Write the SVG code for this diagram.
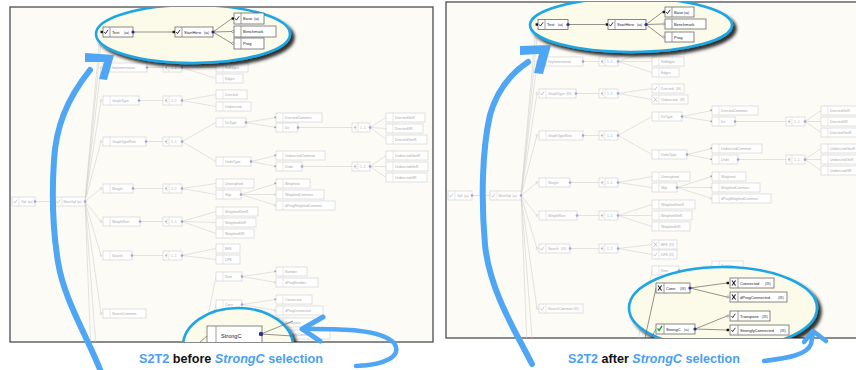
<svg xmlns="http://www.w3.org/2000/svg" width="856" height="370" viewBox="0 0 856 370">
<defs>
<style>
.pl{fill:#fcfbf6;stroke:#4d4d4d;stroke-width:1.3}
.n rect{fill:#fff;stroke:#d3d3d3;stroke-width:.7}
.n path{fill:none;stroke:#d6d6d6;stroke-width:.6}
.n path.i{stroke:#a8a8a8;stroke-width:.6}
.n text{font-family:'Liberation Sans',Arial,sans-serif;font-size:3.4px;fill:#a9a9a9}
.n text.t{font-size:2.6px}
.d{fill:#a2a2dc}
.c{fill:none;stroke:#d2d2d2;stroke-width:.6}
.mo{fill:#fff;stroke:#b8b8b8;stroke-width:.5}
.ms{fill:#8a8a8a}
.e{fill:#fcfbe9;stroke:#1fa6e3;stroke-width:2.6}
.k rect{fill:#fff;stroke:#6a6a6a;stroke-width:.8}
.k path{fill:none;stroke:#777;stroke-width:.7}
.k path.i{stroke:#222;stroke-width:.9}
.k path.x{stroke:#222;stroke-width:1.1}
.k path.gi{stroke:#1faa1f;stroke-width:1.4}
.k text{font-family:'Liberation Sans',Arial,sans-serif;font-size:4px;fill:#222}
.k text.t{font-size:2.8px}
.k .d{fill:#2d2d8c}
.k rect.ks{fill:#111;stroke:none}
.k circle.ko{fill:#fff;stroke:#555;stroke-width:.5}
.kc{fill:none;stroke:#666;stroke-width:.7}
.ar{fill:none;stroke:#4ea6f5;stroke-linecap:round;stroke-linejoin:round}
.ah{fill:#4ea6f5}
.cap{font-family:'Liberation Sans',Arial,sans-serif;font-weight:bold;font-size:12.6px;fill:#4a9ff0}
.cap .b{fill:#111}
.cap .it{font-style:italic}
</style>
<clipPath id="cl"><rect x="10" y="7" width="423" height="335"/></clipPath>
<clipPath id="cr"><rect x="446" y="2" width="420" height="336"/></clipPath>
<filter id="sh" x="-20%" y="-20%" width="150%" height="160%"><feDropShadow dx="3.5" dy="3.5" stdDeviation="1.8" flood-color="#000" flood-opacity=".8"/></filter>
</defs>
<rect width="856" height="370" fill="#fff"/>
<rect class="pl" x="10" y="7" width="423" height="335"/>
<rect class="pl" x="446" y="2" width="420" height="336"/>

<!-- LEFT PANEL -->
<g id="left" clip-path="url(#cl)">
<g id="L_edges">
<path class="c" d="M35 201.5H55M85 201.5L101 22M85 201.5L101 42M85 201.5L101 67.5M85 201.5L101 100.5M85 201.5L101 141.5M85 201.5L101 188.5M85 201.5L101 221.5M85 201.5L101 255.5M85 201.5L101 313.5M85 201.5L97 360M85 201.5L92 380"/>
<path class="c" d="M147 67.5H163M182 67.5L216 55.5M182 67.5H216M182 67.5L216 78.5M139 100.5H163M182 100.5L216 94.5M182 100.5L216 106.5M146 141.5H163M182 141.5L216 122.5M182 141.5L216 161.5"/>
<path class="c" d="M246 122.5L276 117.5M246 122.5L276 127.5M298 127.5H352M370 127.5L386 117.5M370 127.5L386 128.5M370 127.5L386 139.5M251 161.5L276 155.5M251 161.5L276 166.5M302 166.5H352M370 166.5L386 155.5M370 166.5H386M370 166.5L386 177.5"/>
<path class="c" d="M133 188.5H163M182 188.5L216 183.5M182 188.5L216 194.5M241 194.5L276 183.5M241 194.5H276M241 194.5L276 205.5M140 221.5H163M182 221.5L216 211.5M182 221.5L216 222.5M182 221.5L216 233.5M132 255.5H163M182 255.5L216 248.5M182 255.5L216 259.5"/>
<path class="c" d="M198 365L216 276.5M201 365L216 304.5M242 276.5L276 271.5M242 276.5L276 282.5M242 304.5L276 299.5M242 304.5L276 310.5"/>
<circle class="mo" cx="101" cy="67.5" r=".9"/><circle class="mo" cx="101" cy="100.5" r=".9"/><circle class="mo" cx="101" cy="141.5" r=".9"/><circle class="mo" cx="101" cy="188.5" r=".9"/><circle class="mo" cx="101" cy="221.5" r=".9"/><circle class="mo" cx="101" cy="255.5" r=".9"/><circle class="mo" cx="101" cy="313.5" r=".9"/>
<rect class="ms" x="274.5" y="116.5" width="1.6" height="1.6"/><rect class="ms" x="274.5" y="126.5" width="1.6" height="1.6"/><rect class="ms" x="274.5" y="154.5" width="1.6" height="1.6"/><rect class="ms" x="274.5" y="165.5" width="1.6" height="1.6"/><rect class="ms" x="274.5" y="182.5" width="1.6" height="1.6"/><circle class="mo" cx="275" cy="194.5" r=".9"/><circle class="mo" cx="275" cy="205.5" r=".9"/><rect class="ms" x="274.5" y="270.5" width="1.6" height="1.6"/><circle class="mo" cx="275" cy="282.5" r=".9"/><rect class="ms" x="274.5" y="298.5" width="1.6" height="1.6"/><circle class="mo" cx="275" cy="310.5" r=".9"/>
</g>
<g id="L_Gpl" class="n"><rect x="12" y="197" width="23" height="9"/><path class="i" d="M13.5 201.5l1.2 1.6 2.4-3.4"/><path d="M19 197v9"/><text x="21" y="203">Gpl</text><text class="t" x="28" y="203">(aa)</text><circle class="d" cx="35" cy="201.5" r="1.3"/></g>
<g id="L_MainGpl" class="n"><rect x="55" y="197" width="30" height="9"/><path class="i" d="M56.5 201.5l1.2 1.6 2.4-3.4"/><path d="M62 197v9"/><text x="63.5" y="203">MainGpl</text><text class="t" x="77" y="203">(aa)</text><circle class="d" cx="85" cy="201.5" r="1.3"/></g>
<g id="L_Implementation" class="n"><rect x="103" y="63" width="44" height="9"/><path d="M110 63v9"/><text x="112" y="69">Implementation</text><circle class="d" cx="147" cy="67.5" r="1.3"/></g>
<g id="L_g1" class="n"><rect x="163" y="63" width="19" height="9"/><path d="M169 63v9"/><path class="i" d="M167.5 65.5l-2.5 2 2.5 2M165 67.5h2.5"/><text x="171" y="69">1..1</text><circle class="d" cx="182" cy="67.5" r="1.3"/></g>
<g id="L_hidden" class="n"><rect x="216" y="51" width="33" height="9"/><path d="M223 51v9"/></g>
<g id="L_NoEdges" class="n"><rect x="216" y="63" width="32" height="9"/><path d="M223 63v9"/><text x="225" y="69">NoEdges</text></g>
<g id="L_Edges" class="n"><rect x="216" y="74" width="27" height="9"/><path d="M223 74v9"/><text x="225" y="80">Edges</text></g>
<g id="L_GraphType" class="n"><rect x="103" y="96" width="36" height="9"/><path d="M110 96v9"/><text x="112" y="102">GraphType</text><circle class="d" cx="139" cy="100.5" r="1.3"/></g>
<g id="L_g2" class="n"><rect x="163" y="96" width="19" height="9"/><path d="M169 96v9"/><path class="i" d="M167.5 98.5l-2.5 2 2.5 2M165 100.5h2.5"/><text x="171" y="102">1..1</text><circle class="d" cx="182" cy="100.5" r="1.3"/></g>
<g id="L_Directed" class="n"><rect x="216" y="90" width="31" height="9"/><path d="M223 90v9"/><text x="225" y="96">Directed</text></g>
<g id="L_Undirected" class="n"><rect x="216" y="102" width="35" height="9"/><path d="M223 102v9"/><text x="225" y="108">Undirected</text></g>
<g id="L_GraphTypeRest" class="n"><rect x="103" y="137" width="43" height="9"/><path d="M110 137v9"/><text x="112" y="143">GraphTypeRest</text><circle class="d" cx="146" cy="141.5" r="1.3"/></g>
<g id="L_g3" class="n"><rect x="163" y="137" width="19" height="9"/><path d="M169 137v9"/><path class="i" d="M167.5 139.5l-2.5 2 2.5 2M165 141.5h2.5"/><text x="171" y="143">1..1</text><circle class="d" cx="182" cy="141.5" r="1.3"/></g>
<g id="L_DirType" class="n"><rect x="216" y="118" width="30" height="9"/><path d="M223 118v9"/><text x="225" y="124">DirType</text><circle class="d" cx="246" cy="122.5" r="1.3"/></g>
<g id="L_UndirType" class="n"><rect x="216" y="157" width="35" height="9"/><path d="M223 157v9"/><text x="225" y="163">UndirType</text><circle class="d" cx="251" cy="161.5" r="1.3"/></g>
<g id="L_DirectedCommon" class="n"><rect x="276" y="113" width="46" height="9"/><path d="M283 113v9"/><text x="285" y="119">DirectedCommon</text></g>
<g id="L_Dir" class="n"><rect x="276" y="123" width="22" height="9"/><path d="M283 123v9"/><text x="285" y="129">Dir</text><circle class="d" cx="298" cy="127.5" r="1.3"/></g>
<g id="L_g4" class="n"><rect x="352" y="123" width="18" height="9"/><path d="M358 123v9"/><path class="i" d="M356.5 125.5l-2.5 2 2.5 2M354 127.5h2.5"/><text x="360" y="129">1..1</text><circle class="d" cx="370" cy="127.5" r="1.3"/></g>
<g id="L_DirectedGnR" class="n"><rect x="386" y="113" width="39" height="9"/><path d="M393 113v9"/><text x="395" y="119">DirectedGnR</text></g>
<g id="L_DirectedGR" class="n"><rect x="386" y="124" width="37" height="9"/><path d="M393 124v9"/><text x="395" y="130">DirectedGR</text></g>
<g id="L_DirectedGenR" class="n"><rect x="386" y="135" width="41" height="9"/><path d="M393 135v9"/><text x="395" y="141">DirectedGenR</text></g>
<g id="L_UndirectedCommon" class="n"><rect x="276" y="151" width="49" height="9"/><path d="M283 151v9"/><text x="285" y="157">UndirectedCommon</text></g>
<g id="L_Undir" class="n"><rect x="276" y="162" width="26" height="9"/><path d="M283 162v9"/><text x="285" y="168">Undir</text><circle class="d" cx="302" cy="166.5" r="1.3"/></g>
<g id="L_g5" class="n"><rect x="352" y="162" width="18" height="9"/><path d="M358 162v9"/><path class="i" d="M356.5 164.5l-2.5 2 2.5 2M354 166.5h2.5"/><text x="360" y="168">1..1</text><circle class="d" cx="370" cy="166.5" r="1.3"/></g>
<g id="L_UndirectedGenR" class="n"><rect x="386" y="151" width="42" height="9"/><path d="M393 151v9"/><text x="395" y="157">UndirectedGenR</text></g>
<g id="L_UndirectedGnR" class="n"><rect x="386" y="162" width="42" height="9"/><path d="M393 162v9"/><text x="395" y="168">UndirectedGnR</text></g>
<g id="L_UndirectedGR" class="n"><rect x="386" y="173" width="41" height="9"/><path d="M393 173v9"/><text x="395" y="179">UndirectedGR</text></g>
<g id="L_Weight" class="n"><rect x="103" y="184" width="30" height="9"/><path d="M110 184v9"/><text x="112" y="190">Weight</text><circle class="d" cx="133" cy="188.5" r="1.3"/></g>
<g id="L_g6" class="n"><rect x="163" y="184" width="19" height="9"/><path d="M169 184v9"/><path class="i" d="M167.5 186.5l-2.5 2 2.5 2M165 188.5h2.5"/><text x="171" y="190">1..1</text><circle class="d" cx="182" cy="188.5" r="1.3"/></g>
<g id="L_Unweighted" class="n"><rect x="216" y="179" width="38" height="9"/><path d="M223 179v9"/><text x="225" y="185">Unweighted</text></g>
<g id="L_Wgt" class="n"><rect x="216" y="190" width="25" height="9"/><path d="M223 190v9"/><text x="225" y="196">Wgt</text><circle class="d" cx="241" cy="194.5" r="1.3"/></g>
<g id="L_Weighted" class="n"><rect x="276" y="179" width="34" height="9"/><path d="M283 179v9"/><text x="285" y="185">Weighted</text></g>
<g id="L_WeightedCommon" class="n"><rect x="276" y="190" width="48" height="9"/><path d="M283 190v9"/><text x="285" y="196">WeightedCommon</text></g>
<g id="L_dProgWeightedCommon" class="n"><rect x="276" y="201" width="59" height="9"/><path d="M283 201v9"/><text x="285" y="207">dProgWeightedCommon</text></g>
<g id="L_WeightRest" class="n"><rect x="103" y="217" width="37" height="9"/><path d="M110 217v9"/><text x="112" y="223">WeightRest</text><circle class="d" cx="140" cy="221.5" r="1.3"/></g>
<g id="L_g7" class="n"><rect x="163" y="217" width="19" height="9"/><path d="M169 217v9"/><path class="i" d="M167.5 219.5l-2.5 2 2.5 2M165 221.5h2.5"/><text x="171" y="223">1..1</text><circle class="d" cx="182" cy="221.5" r="1.3"/></g>
<g id="L_WeightedGenR" class="n"><rect x="216" y="207" width="42" height="9"/><path d="M223 207v9"/><text x="225" y="213">WeightedGenR</text></g>
<g id="L_WeightedGnR" class="n"><rect x="216" y="218" width="40" height="9"/><path d="M223 218v9"/><text x="225" y="224">WeightedGnR</text></g>
<g id="L_WeightedGR" class="n"><rect x="216" y="229" width="38" height="9"/><path d="M223 229v9"/><text x="225" y="235">WeightedGR</text></g>
<g id="L_Search" class="n"><rect x="103" y="251" width="29" height="9"/><path d="M110 251v9"/><text x="112" y="257">Search</text><circle class="d" cx="132" cy="255.5" r="1.3"/></g>
<g id="L_g8" class="n"><rect x="163" y="251" width="19" height="9"/><path d="M169 251v9"/><path class="i" d="M167.5 253.5l-2.5 2 2.5 2M165 255.5h2.5"/><text x="171" y="257">1..1</text><circle class="d" cx="182" cy="255.5" r="1.3"/></g>
<g id="L_BFS" class="n"><rect x="216" y="244" width="24" height="9"/><path d="M223 244v9"/><text x="225" y="250">BFS</text></g>
<g id="L_DFS" class="n"><rect x="216" y="255" width="24" height="9"/><path d="M223 255v9"/><text x="225" y="261">DFS</text></g>
<g id="L_Num" class="n"><rect x="216" y="272" width="26" height="9"/><path d="M223 272v9"/><text x="225" y="278">Num</text><circle class="d" cx="242" cy="276.5" r="1.3"/></g>
<g id="L_Number" class="n"><rect x="276" y="267" width="31" height="9"/><path d="M283 267v9"/><text x="285" y="273">Number</text></g>
<g id="L_dProgNumber" class="n"><rect x="276" y="278" width="42" height="9"/><path d="M283 278v9"/><text x="285" y="284">dProgNumber</text></g>
<g id="L_Conn" class="n"><rect x="216" y="300" width="26" height="9"/><path d="M223 300v9"/><text x="225" y="306">Conn</text><circle class="d" cx="242" cy="304.5" r="1.3"/></g>
<g id="L_Connected" class="n"><rect x="276" y="295" width="36" height="9"/><path d="M283 295v9"/><text x="285" y="301">Connected</text></g>
<g id="L_dProgConnected" class="n"><rect x="276" y="306" width="47" height="9"/><path d="M283 306v9"/><text x="285" y="312">dProgConnected</text></g>
<g id="L_Transpose" class="n"><rect x="276" y="318" width="38" height="9"/><path d="M283 318v9"/><text x="285" y="324">Transpose</text></g>
<g id="L_StronglyConnected" class="n"><rect x="276" y="330" width="54" height="9"/><path d="M283 330v9"/><text x="285" y="336">StronglyConnected</text></g>
<g id="L_SearchCommon" class="n"><rect x="103" y="309" width="43" height="9"/><path d="M110 309v9"/><text x="112" y="315">SearchCommon</text></g>

<g id="L_zoomTop">
<ellipse class="e" cx="193" cy="34" rx="97" ry="29" filter="url(#sh)"/>
<path class="kc" d="M133 32H173M213 32L232 18.5M213 32L232 31.5M213 32L232 43.5"/>
<g id="L_Test" class="k"><rect x="103" y="27" width="30" height="10"/><rect class="ks" x="100.5" y="30.8" width="2.4" height="2.4"/><path class="i" d="M104.3 32l1.2 1.6 2.6-3.8"/><path d="M110 27v10"/><text x="112" y="33.5">Test</text><text class="t" x="124" y="33.5">(aa)</text><circle class="d" cx="133" cy="32" r="1.6"/></g>
<g id="L_StartHere" class="k"><rect x="175" y="27" width="38" height="10"/><rect class="ks" x="172.6" y="30.8" width="2.4" height="2.4"/><path class="i" d="M176.3 32l1.2 1.6 2.6-3.8"/><path d="M182 27v10"/><text x="184" y="33.5">StartHere</text><text class="t" x="204" y="33.5">(aa)</text><circle class="d" cx="213" cy="32" r="1.6"/></g>
<g id="L_Base" class="k"><rect x="234" y="13" width="30" height="11"/><rect class="ks" x="231.6" y="17.3" width="2.4" height="2.4"/><path class="i" d="M235.3 18.5l1.2 1.6 2.6-3.8"/><path d="M241 13v11"/><text x="243" y="20">Base</text><text class="t" x="254" y="20">(aa)</text></g>
<g id="L_Benchmark" class="k"><rect x="234" y="26" width="42" height="11"/><circle class="ko" cx="232.8" cy="31.5" r="1.1"/><path d="M241 26v11"/><text x="243" y="33">Benchmark</text></g>
<g id="L_Prog" class="k"><rect x="234" y="38" width="30" height="11"/><circle class="ko" cx="232.8" cy="43.5" r="1.1"/><path d="M241 38v11"/><text x="243" y="45">Prog</text></g>
</g>

<g id="L_zoomBottom">
<ellipse class="e" cx="238" cy="346" rx="55" ry="38" filter="url(#sh)"/>
<path class="kc" d="M261 334L293 321M261 334L293 336M199 343L207 336"/>
<g id="L_StrongC" class="k"><rect x="207" y="326" width="55" height="17"/><path d="M216 326v17"/><text x="221" y="337.5" style="font-size:5.6px">StrongC</text><circle class="d" cx="261" cy="334" r="2.2"/></g>
</g>
</g>

<!-- RIGHT PANEL -->
<g id="right" clip-path="url(#cr)">
<g id="R_edges">
<path class="c" d="M472 195.5H490M521 195.5L537 16M521 195.5L537 38M521 195.5L537 61.5M521 195.5L537 93.5M521 195.5L537 135.5M521 195.5L537 182.5M521 195.5L537 215.5M521 195.5L537 248.5M521 195.5L537 308.5M521 195.5L533 350M521 195.5L528 370"/>
<path class="c" d="M583 61.5H599M618 61.5L652 49.5M618 61.5H652M618 61.5L652 72.5M576 93.5H599M618 93.5L652 88.5M618 93.5L652 99.5M583 135.5H599M618 135.5L652 116.5M618 135.5L652 154.5"/>
<path class="c" d="M682 116.5L712 110.5M682 116.5L712 121.5M735 121.5H786M805 121.5L821 110.5M805 121.5H821M805 121.5L821 132.5M687 154.5L712 148.5M687 154.5L712 159.5M738 159.5H786M805 159.5L821 148.5M805 159.5H821M805 159.5L821 170.5"/>
<path class="c" d="M570 182.5H599M618 182.5L652 176.5M618 182.5L652 187.5M677 187.5L712 176.5M677 187.5H712M677 187.5L712 198.5M577 215.5H599M618 215.5L652 204.5M618 215.5H652M618 215.5L652 226.5M570 248.5H599M618 248.5L652 244.5M618 248.5L652 254.5"/>
<path class="c" d="M636 350L652 270.5M679 270.5L712 265.5M679 270.5L712 276.5"/>
<circle class="mo" cx="537" cy="61.5" r=".9"/><circle class="mo" cx="537" cy="93.5" r=".9"/><circle class="mo" cx="537" cy="135.5" r=".9"/><circle class="mo" cx="537" cy="182.5" r=".9"/><circle class="mo" cx="537" cy="215.5" r=".9"/><circle class="mo" cx="537" cy="248.5" r=".9"/><circle class="mo" cx="537" cy="308.5" r=".9"/>
<rect class="ms" x="710.5" y="109.5" width="1.6" height="1.6"/><rect class="ms" x="710.5" y="120.5" width="1.6" height="1.6"/><rect class="ms" x="710.5" y="147.5" width="1.6" height="1.6"/><rect class="ms" x="710.5" y="158.5" width="1.6" height="1.6"/><rect class="ms" x="710.5" y="175.5" width="1.6" height="1.6"/><circle class="mo" cx="711" cy="187.5" r=".9"/><circle class="mo" cx="711" cy="198.5" r=".9"/>
</g>
<g id="R_Gpl" class="n"><rect x="448" y="191" width="24" height="9"/><path class="i" d="M449.5 195.5l1.2 1.6 2.4-3.4"/><path d="M455 191v9"/><text x="457" y="197">Gpl</text><text class="t" x="464" y="197">(aa)</text><circle class="d" cx="472" cy="195.5" r="1.3"/></g>
<g id="R_MainGpl" class="n"><rect x="490" y="191" width="31" height="9"/><path class="i" d="M491.5 195.5l1.2 1.6 2.4-3.4"/><path d="M497 191v9"/><text x="498.5" y="197">MainGpl</text><text class="t" x="512.5" y="197">(aa)</text><circle class="d" cx="521" cy="195.5" r="1.3"/></g>
<g id="R_Implementation" class="n"><rect x="539" y="57" width="44" height="9"/><path d="M546 57v9"/><text x="548" y="63">Implementation</text><circle class="d" cx="583" cy="61.5" r="1.3"/></g>
<g id="R_g1" class="n"><rect x="599" y="57" width="19" height="9"/><path d="M605 57v9"/><path class="i" d="M603.5 59.5l-2.5 2 2.5 2M601 61.5h2.5"/><text x="607" y="63">1..1</text><circle class="d" cx="618" cy="61.5" r="1.3"/></g>
<g id="R_hidden" class="n"><rect x="652" y="45" width="33" height="9"/><path d="M659 45v9"/></g>
<g id="R_NoEdges" class="n"><rect x="652" y="57" width="32" height="9"/><path d="M659 57v9"/><text x="661" y="63">NoEdges</text></g>
<g id="R_Edges" class="n"><rect x="652" y="68" width="27" height="9"/><path d="M659 68v9"/><text x="661" y="74">Edges</text></g>
<g id="R_GraphType" class="n"><rect x="539" y="89" width="37" height="9"/><path class="i" d="M540.5 93.5l1.2 1.6 2.4-3.4"/><path d="M546 89v9"/><text x="548" y="95">GraphType</text><text class="t" x="566.5" y="95">(KK)</text><circle class="d" cx="576" cy="93.5" r="1.3"/></g>
<g id="R_g2" class="n"><rect x="599" y="89" width="19" height="9"/><path d="M605 89v9"/><path class="i" d="M603.5 91.5l-2.5 2 2.5 2M601 93.5h2.5"/><text x="607" y="95">1..1</text><circle class="d" cx="618" cy="93.5" r="1.3"/></g>
<g id="R_Directed" class="n"><rect x="652" y="84" width="32" height="9"/><path class="i" d="M653.5 88.5l1.2 1.6 2.4-3.4"/><path d="M659 84v9"/><text x="661" y="90">Directed</text><text class="t" x="676" y="90">(SK)</text></g>
<g id="R_Undirected" class="n"><rect x="652" y="95" width="36" height="9"/><path class="i" d="M653.8 97.3l3.4 4.4M657.2 97.3l-3.4 4.4"/><path d="M659 95v9"/><text x="661" y="101">Undirected</text><text class="t" x="680" y="101">(SK)</text></g>
<g id="R_GraphTypeRest" class="n"><rect x="539" y="131" width="44" height="9"/><path d="M546 131v9"/><text x="548" y="137">GraphTypeRest</text><circle class="d" cx="583" cy="135.5" r="1.3"/></g>
<g id="R_g3" class="n"><rect x="599" y="131" width="19" height="9"/><path d="M605 131v9"/><path class="i" d="M603.5 133.5l-2.5 2 2.5 2M601 135.5h2.5"/><text x="607" y="137">1..1</text><circle class="d" cx="618" cy="135.5" r="1.3"/></g>
<g id="R_DirType" class="n"><rect x="652" y="112" width="30" height="9"/><path d="M659 112v9"/><text x="661" y="118">DirType</text><circle class="d" cx="682" cy="116.5" r="1.3"/></g>
<g id="R_UndirType" class="n"><rect x="652" y="150" width="35" height="9"/><path d="M659 150v9"/><text x="661" y="156">UndirType</text><circle class="d" cx="687" cy="154.5" r="1.3"/></g>
<g id="R_DirectedCommon" class="n"><rect x="712" y="106" width="46" height="9"/><path d="M719 106v9"/><text x="721" y="112">DirectedCommon</text></g>
<g id="R_Dir" class="n"><rect x="712" y="117" width="23" height="9"/><path d="M719 117v9"/><text x="721" y="123">Dir</text><circle class="d" cx="735" cy="121.5" r="1.3"/></g>
<g id="R_g4" class="n"><rect x="786" y="117" width="19" height="9"/><path d="M792 117v9"/><path class="i" d="M790.5 119.5l-2.5 2 2.5 2M788 121.5h2.5"/><text x="794" y="123">1..1</text><circle class="d" cx="805" cy="121.5" r="1.3"/></g>
<g id="R_DirectedGnR" class="n"><rect x="821" y="106" width="40" height="9"/><path d="M828 106v9"/><text x="830" y="112">DirectedGnR</text></g>
<g id="R_DirectedGR" class="n"><rect x="821" y="117" width="38" height="9"/><path d="M828 117v9"/><text x="830" y="123">DirectedGR</text></g>
<g id="R_DirectedGenR" class="n"><rect x="821" y="128" width="42" height="9"/><path d="M828 128v9"/><text x="830" y="134">DirectedGenR</text></g>
<g id="R_UndirectedCommon" class="n"><rect x="712" y="144" width="50" height="9"/><path d="M719 144v9"/><text x="721" y="150">UndirectedCommon</text></g>
<g id="R_Undir" class="n"><rect x="712" y="155" width="26" height="9"/><path d="M719 155v9"/><text x="721" y="161">Undir</text><circle class="d" cx="738" cy="159.5" r="1.3"/></g>
<g id="R_g5" class="n"><rect x="786" y="155" width="19" height="9"/><path d="M792 155v9"/><path class="i" d="M790.5 157.5l-2.5 2 2.5 2M788 159.5h2.5"/><text x="794" y="161">1..1</text><circle class="d" cx="805" cy="159.5" r="1.3"/></g>
<g id="R_UndirectedGenR" class="n"><rect x="821" y="144" width="42" height="9"/><path d="M828 144v9"/><text x="830" y="150">UndirectedGenR</text></g>
<g id="R_UndirectedGnR" class="n"><rect x="821" y="155" width="42" height="9"/><path d="M828 155v9"/><text x="830" y="161">UndirectedGnR</text></g>
<g id="R_UndirectedGR" class="n"><rect x="821" y="166" width="41" height="9"/><path d="M828 166v9"/><text x="830" y="172">UndirectedGR</text></g>
<g id="R_Weight" class="n"><rect x="539" y="178" width="31" height="9"/><path d="M546 178v9"/><text x="548" y="184">Weight</text><circle class="d" cx="570" cy="182.5" r="1.3"/></g>
<g id="R_g6" class="n"><rect x="599" y="178" width="19" height="9"/><path d="M605 178v9"/><path class="i" d="M603.5 180.5l-2.5 2 2.5 2M601 182.5h2.5"/><text x="607" y="184">1..1</text><circle class="d" cx="618" cy="182.5" r="1.3"/></g>
<g id="R_Unweighted" class="n"><rect x="652" y="172" width="38" height="9"/><path d="M659 172v9"/><text x="661" y="178">Unweighted</text></g>
<g id="R_Wgt" class="n"><rect x="652" y="183" width="25" height="9"/><path d="M659 183v9"/><text x="661" y="189">Wgt</text><circle class="d" cx="677" cy="187.5" r="1.3"/></g>
<g id="R_Weighted" class="n"><rect x="712" y="172" width="34" height="9"/><path d="M719 172v9"/><text x="721" y="178">Weighted</text></g>
<g id="R_WeightedCommon" class="n"><rect x="712" y="183" width="48" height="9"/><path d="M719 183v9"/><text x="721" y="189">WeightedCommon</text></g>
<g id="R_dProgWeightedCommon" class="n"><rect x="712" y="194" width="59" height="9"/><path d="M719 194v9"/><text x="721" y="200">dProgWeightedCommon</text></g>
<g id="R_WeightRest" class="n"><rect x="539" y="211" width="38" height="9"/><path d="M546 211v9"/><text x="548" y="217">WeightRest</text><circle class="d" cx="577" cy="215.5" r="1.3"/></g>
<g id="R_g7" class="n"><rect x="599" y="211" width="19" height="9"/><path d="M605 211v9"/><path class="i" d="M603.5 213.5l-2.5 2 2.5 2M601 215.5h2.5"/><text x="607" y="217">1..1</text><circle class="d" cx="618" cy="215.5" r="1.3"/></g>
<g id="R_WeightedGenR" class="n"><rect x="652" y="200" width="43" height="9"/><path d="M659 200v9"/><text x="661" y="206">WeightedGenR</text></g>
<g id="R_WeightedGnR" class="n"><rect x="652" y="211" width="40" height="9"/><path d="M659 211v9"/><text x="661" y="217">WeightedGnR</text></g>
<g id="R_WeightedGR" class="n"><rect x="652" y="222" width="38" height="9"/><path d="M659 222v9"/><text x="661" y="228">WeightedGR</text></g>
<g id="R_Search" class="n"><rect x="539" y="244" width="31" height="9"/><path class="i" d="M540.5 248.5l1.2 1.6 2.4-3.4"/><path d="M546 244v9"/><text x="548" y="250">Search</text><text class="t" x="561" y="250">(XX)</text><circle class="d" cx="570" cy="248.5" r="1.3"/></g>
<g id="R_g8" class="n"><rect x="599" y="244" width="19" height="9"/><path d="M605 244v9"/><path class="i" d="M603.5 246.5l-2.5 2 2.5 2M601 248.5h2.5"/><text x="607" y="250">1..1</text><circle class="d" cx="618" cy="248.5" r="1.3"/></g>
<g id="R_BFS" class="n"><rect x="652" y="240" width="25" height="9"/><path class="i" d="M653.8 242.3l3.4 4.4M657.2 242.3l-3.4 4.4"/><path d="M659 240v9"/><text x="661" y="246">BFS</text><text class="t" x="669" y="246">(XX)</text></g>
<g id="R_DFS" class="n"><rect x="652" y="250" width="25" height="9"/><path class="i" d="M653.5 254.5l1.2 1.6 2.4-3.4"/><path d="M659 250v9"/><text x="661" y="256">DFS</text><text class="t" x="669" y="256">(XX)</text></g>
<g id="R_Num" class="n"><rect x="652" y="266" width="27" height="9"/><path d="M659 266v9"/><text x="661" y="272">Num</text><circle class="d" cx="679" cy="270.5" r="1.3"/></g>
<g id="R_Number" class="n"><rect x="712" y="261" width="31" height="9"/><path d="M719 261v9"/><text x="721" y="267">Number</text></g>
<g id="R_dProgNumber" class="n"><rect x="712" y="272" width="42" height="9"/><path d="M719 272v9"/><text x="721" y="278">dProgNumber</text></g>
<g id="R_SearchCommon" class="n"><rect x="539" y="304" width="44" height="9"/><path class="i" d="M540.5 308.5l1.2 1.6 2.4-3.4"/><path d="M546 304v9"/><text x="548" y="310">SearchCommon</text><text class="t" x="573.5" y="310">(XX)</text></g>

<g id="R_zoomTop">
<ellipse class="e" cx="631" cy="25" rx="101" ry="27" filter="url(#sh)"/>
<path class="kc" d="M568 24.5H605M646 24.5L662.5 12M646 24.5L662.5 24M646 24.5L662.5 37"/>
<g id="R_Test" class="k"><rect x="538" y="19.5" width="30" height="10"/><rect class="ks" x="535.6" y="23.3" width="2.4" height="2.4"/><path class="i" d="M539.3 24.5l1.2 1.6 2.6-3.8"/><path d="M545 19.5v10"/><text x="547" y="26">Test</text><text class="t" x="558" y="26">(aa)</text><circle class="d" cx="568" cy="24.5" r="1.6"/></g>
<g id="R_StartHere" class="k"><rect x="608" y="19.5" width="38" height="10"/><rect class="ks" x="605.6" y="23.3" width="2.4" height="2.4"/><path class="i" d="M609.3 24.5l1.2 1.6 2.6-3.8"/><path d="M615 19.5v10"/><text x="617" y="26">StartHere</text><text class="t" x="637" y="26">(aa)</text><circle class="d" cx="646" cy="24.5" r="1.6"/></g>
<g id="R_Base" class="k"><rect x="665" y="7" width="29" height="10"/><rect class="ks" x="662.6" y="10.8" width="2.4" height="2.4"/><path class="i" d="M666.3 12l1.2 1.6 2.6-3.8"/><path d="M672 7v10"/><text x="674" y="13.5">Base</text><text class="t" x="684" y="13.5">(aa)</text></g>
<g id="R_Benchmark" class="k"><rect x="665" y="19" width="41" height="10"/><circle class="ko" cx="663.8" cy="24" r="1.1"/><path d="M672 19v10"/><text x="674" y="25.5">Benchmark</text></g>
<g id="R_Prog" class="k"><rect x="665" y="32" width="29" height="10"/><circle class="ko" cx="663.8" cy="37" r="1.1"/><path d="M672 32v10"/><text x="674" y="38.5">Prog</text></g>
</g>

<g id="R_zoomBottom">
<ellipse class="e" cx="723" cy="308" rx="94" ry="41" filter="url(#sh)"/>
<path class="kc" d="M690 288L727 283M690 288L727 297M695 329L727 316M695 329L727 330M645 338L656 288M650 340L656 329"/>
<g id="R_Conn" class="k"><rect x="656" y="283" width="34" height="10"/><path class="x" d="M658 285.5l3.6 5M661.6 285.5l-3.6 5"/><path d="M664 283v10"/><text x="666" y="289.5">Conn</text><text class="t" x="680" y="289.5">(XX)</text><circle class="d" cx="690" cy="288" r="1.6"/></g>
<g id="R_Connected" class="k"><rect x="730" y="278" width="44" height="10"/><rect class="ks" x="726.6" y="281.8" width="2.4" height="2.4"/><path class="x" d="M732 280.5l3.6 5M735.6 280.5l-3.6 5"/><path d="M738 278v10"/><text x="740" y="284.5">Connected</text><text class="t" x="765" y="284.5">(XX)</text></g>
<g id="R_dProgConnected" class="k"><rect x="730" y="292" width="57" height="10"/><circle class="ko" cx="728" cy="297" r="1.1"/><path class="x" d="M732 294.5l3.6 5M735.6 294.5l-3.6 5"/><path d="M738 292v10"/><text x="740" y="298.5">dProgConnected</text><text class="t" x="778" y="298.5">(XX)</text></g>
<g id="R_StrongC" class="k"><rect x="656" y="324" width="39" height="10"/><path class="gi" d="M657.5 328.5l1.6 2 3-4.5"/><path d="M664 324v10"/><text x="666" y="330.5">StrongC</text><text class="t" x="684" y="330.5">(ss)</text><circle class="d" cx="695" cy="329" r="1.6"/></g>
<g id="R_Transpose" class="k"><rect x="730" y="311" width="40" height="10"/><circle class="ko" cx="728" cy="316" r="1.1"/><path class="i" d="M731.5 316l1.2 1.6 2.6-3.8"/><path d="M738 311v10"/><text x="740" y="317.5">Transpose</text><text class="t" x="762" y="317.5">(XX)</text></g>
<g id="R_StronglyConnected" class="k"><rect x="730" y="325" width="59" height="10"/><rect class="ks" x="726.6" y="328.8" width="2.4" height="2.4"/><path class="i" d="M731.5 330l1.2 1.6 2.6-3.8"/><path d="M738 325v10"/><text x="740" y="331.5">StronglyConnected</text><text class="t" x="780" y="331.5">(XX)</text></g>
</g>
</g>

<!-- Hand-drawn arrows -->
<g id="arrows">
<path class="ar" stroke-width="6" d="M101 372C88 338 64 300 58 262C52 225 52 190 54 160C56 128 66 100 90 70"/>
<path class="ah" d="M85 53L114 55L107 80L99 79L104 62L85 62Z"/>
<path class="ar" stroke-width="4.5" d="M304 329C335 329 380 328 394 343C403 356 385 365 356 366"/>
<path class="ar" stroke-width="5" d="M323 317L302 329L320 341"/>
<path class="ar" stroke-width="6" d="M532 364C516 332 490 292 485 245C481 200 482 150 490 115C497 90 510 74 528 62"/>
<path class="ah" d="M520 46L551 45L543 74L534 73L539 54L520 55Z"/>
<path class="ar" stroke-width="4.5" d="M764 361C788 358 807 355 811 344L813 333"/>
<path class="ar" stroke-width="4.5" d="M804 342L813 331L826 341"/>
</g>

<g id="captions">
<text class="cap" x="139" y="363" textLength="184" lengthAdjust="spacingAndGlyphs">S2T2 <tspan class="b">before</tspan> <tspan class="it">StrongC</tspan> selection</text>
<text class="cap" x="568" y="363" textLength="172" lengthAdjust="spacingAndGlyphs">S2T2 <tspan class="b">after</tspan> <tspan class="it">StrongC</tspan> selection</text>
</g>
</svg>
